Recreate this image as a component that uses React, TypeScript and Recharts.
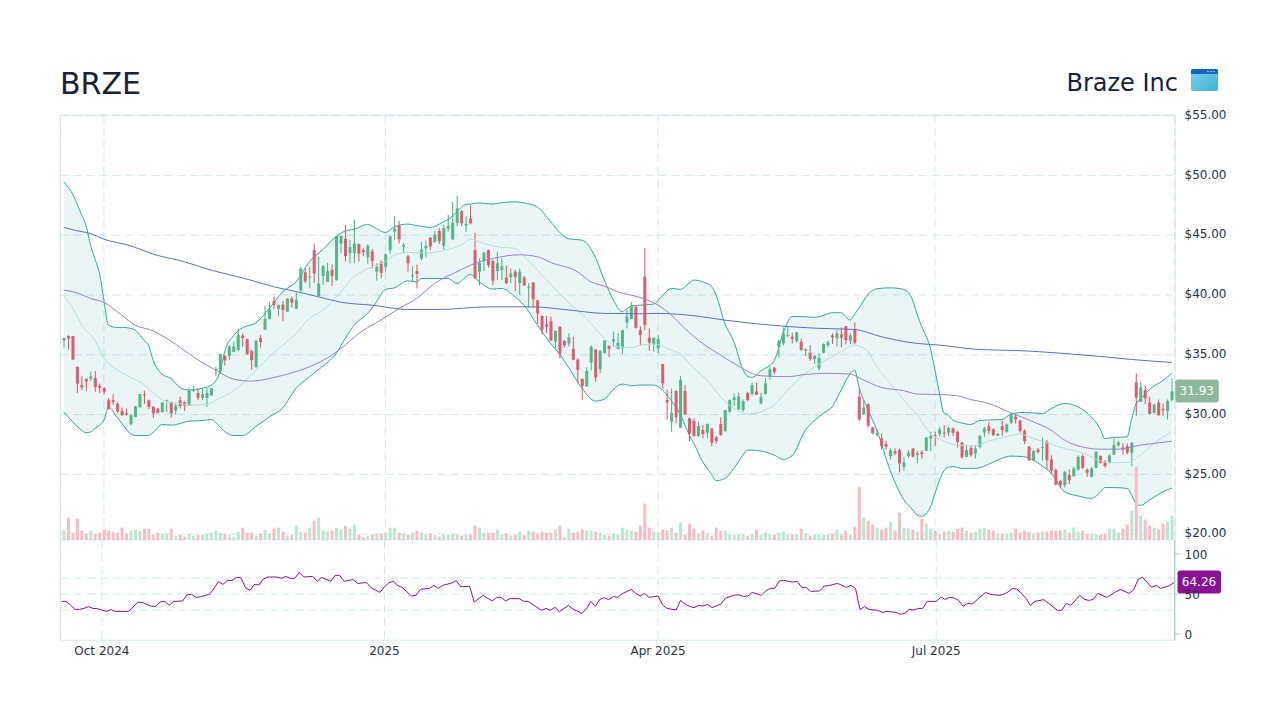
import React from "react";
import { ComposedChart, Bar, Line, Area, XAxis, YAxis, CartesianGrid, ReferenceLine, ReferenceDot } from "recharts";

// open, high, low, close for each trading day
const candles: number[][] = [
[36.2,36.42,35.6,36.4],[36.56,36.64,35.45,36.36],[36.56,36.56,34.6,34.6],[34,34,31.8,32.6],[32.46,33.2,32.05,32.27],[33,33,32,32.77],[33,33.6,32.8,33.2],[33.05,33.63,31.9,32.3],[32.4,32.6,31.8,32.25],[32.2,32.3,31.7,31.9],
[31.2,31.4,30.4,30.5],[31.2,31.7,30.8,31.05],[30.9,31,30.15,30.25],[30.3,30.6,29.9,29.95],[30.1,30.5,29.9,30],[29.2,30,29.1,29.95],[29.8,30.73,29.8,30.7],[30.6,31.75,30.6,31.7],[31.7,32,30.9,31.65],[31.2,31.25,30.45,30.65],
[30.65,30.7,29.7,30.1],[30.5,30.55,30.1,30.15],[30.2,31.05,30.2,31],[31.1,31.25,30.2,31.2],[31.05,31.1,29.75,30.1],[30.35,30.9,30,30.75],[31.2,31.5,30.5,30.7],[31.05,31.1,30.3,30.75],[30.75,32.25,30.75,32.05],[32,32.4,31.9,32.1],
[31.8,32.2,31.2,31.4],[31.4,32.2,31.2,31.7],[31.4,32.2,30.65,31.8],[31.6,32.2,31.6,32.2],[33.75,34,33.2,33.8],[33.6,35.1,33.4,35.05],[34.9,35,34.1,34.55],[34.9,35.8,34.55,35.7],[35.25,36.1,35.2,35.7],[35.4,37.2,35.3,36.65],
[36.6,36.8,35.65,36.4],[36.3,36.35,35,35.05],[35.3,35.45,33.75,34.55],[33.95,36.25,33.95,36.2],[36.4,36.65,35.6,36.05],[37.1,39.1,37.1,38],[38,39.4,37.95,38.8],[39.5,39.85,38.8,39.15],[38.85,39.25,38.25,39.15],[39.2,39.5,37.8,38.75],
[38.6,39.7,38.6,39.7],[39.7,39.85,38.95,39.35],[38.85,40.2,38.85,39.6],[40.4,42.35,40.1,42.2],[41.9,42.2,41,41.15],[41.5,42.35,40.55,41.55],[43.75,44.3,41,41.8],[39.9,43.2,39.9,40.95],[41.6,42.5,40.85,42.4],[41.1,42.7,41.1,42],
[42.1,42.55,40.75,41.6],[41.25,44.95,41.2,44.9],[44.3,44.95,43.5,44.95],[44.7,45.85,42.8,43.25],[43.5,44.6,42.65,44],[43.5,46.3,42.65,44.3],[44.25,44.3,42.8,43.45],[43.75,43.9,43.25,43.6],[43.15,44.25,42.6,44.1],[43.65,43.85,42.2,42.85],
[41.95,42.65,41.2,42.35],[42.7,42.9,41.4,41.85],[42.35,43.45,41.95,43.4],[43.75,44.95,43.45,44.9],[45.3,46.6,44.6,45.55],[45.8,46.2,44.3,44.65],[44.03,44.35,43.5,44.17],[43.25,43.35,41.95,42.65],[41.6,42.45,41.1,41.65],[42,42.55,40.55,41.75],
[43.05,44.45,42.9,43.8],[43.9,44.55,43.15,44.1],[44.8,44.85,43.75,44.05],[44.45,45.35,44.35,45.05],[45.35,45.6,44.25,44.5],[44.1,45.85,43.8,45.6],[45.55,46.7,45.3,45.75],[44.65,47.8,44.6,46.05],[46.05,48.3,45.75,47.25],[47,47.1,45.75,46],
[45.8,46.55,45.3,45.95],[46.4,47.5,45.9,46],[43.75,45.2,41.3,41.4],[41.95,43.05,40.8,42.7],[42.85,43.6,42,43.55],[43.75,43.8,42.3,42.5],[42.85,42.95,40.8,41.2],[42,43.6,41.25,42.65],[42.1,43.1,41.25,42.4],[41.45,42.45,40.9,41],
[41.5,42.2,41,41.8],[41.95,42.1,40.35,41.5],[41,42.2,40,41.95],[41.45,41.6,40.75,40.8],[40.6,41,38.95,40.7],[41.05,41.1,38.9,39.65],[39.55,39.6,37.6,38.45],[38.25,38.3,36.7,37.1],[37.55,38.25,36.8,37.35],[37.8,38.2,36.15,36.2],
[36.1,37.05,35.5,37],[37.35,37.4,34.7,35.1],[36.15,36.25,35.6,35.8],[35.95,36.8,35.7,36.45],[35.5,36.5,34.55,34.6],[34.6,34.7,32.6,33.75],[33,33,31.25,32.4],[32.35,33.95,32.35,33.65],[34.35,35.8,33.7,35.65],[35.45,35.45,32.75,33.1],
[33.8,35.4,33.45,35.3],[35.15,36.2,35.1,36.2],[35.75,35.8,34.8,35.5],[36.1,36.95,35.65,36.3],[35.5,36.8,35.45,36],[35.55,37.1,35.1,37.05],[37.7,38.75,37.2,38.2],[38,39.4,38,39.1],[39,39.15,37.2,37.25],[37.05,37.4,35.8,36.65],
[41.53,43.9,37.07,37.49],[36.43,37.21,35.34,36.01],[35.9,36.43,35.26,36.43],[35.54,36.65,35.12,36.32],[34.23,34.23,32.19,32.61],[31.22,32.1,29.6,31],[29.4,32.19,28.57,30.16],[31.97,32.05,29.27,29.77],[28.9,33.22,28.9,32.89],[31.97,32.47,29.96,30.02],
[29.68,29.77,27.73,28.43],[29.49,29.68,28.15,28.23],[28.2,29.4,28.15,29.04],[28.71,29.13,28.01,28.37],[28.48,29.26,28.01,29.21],[28.85,28.85,27.37,27.65],[28.09,28.2,27.59,27.79],[29.21,29.77,28.21,28.29],[28.62,30.38,28.57,30.38],[30.24,31.27,30.16,31.22],
[31.22,31.77,30.71,31.44],[30.44,31.83,30.38,31.5],[30.38,31.27,30.24,31.13],[31.8,31.91,31.13,31.22],[31.72,32.66,31.58,32.47],[31.94,32.66,31.63,31.66],[30.94,31.83,30.85,31.44],[31.72,33.03,31.69,32.61],[33.17,34,32.94,33.78],[33.92,34,33.39,33.58],
[35.68,36.29,34.78,36.15],[35.95,37.29,35.81,36.79],[36.57,37.35,36.51,36.65],[36.51,36.85,35.95,36.34],[36.15,36.93,36.01,36.87],[36.09,36.37,35.34,35.4],[35.34,35.54,34.9,35.45],[35.17,35.81,34.5,34.67],[34.64,34.98,34.23,34.9],[33.86,35.12,33.67,34.73],
[35.17,35.95,35.12,35.9],[35.81,36.18,35.62,36.04],[36.62,36.79,35.9,36.46],[36.37,37.12,35.68,36.79],[36.71,37.29,35.62,36.43],[37.4,37.4,35.87,36.23],[36.18,36.79,35.9,36.62],[37.12,37.71,35.9,36.01],[31.5,32.19,29.49,29.6],[30.02,31.22,29.96,30.6],
[30.88,30.94,28.93,29.07],[28.93,28.99,28.37,28.43],[28.29,28.71,28.15,28.48],[28.01,28.43,27.09,27.37],[27.54,27.82,27.09,27.31],[26.53,27.17,26.25,27.03],[26.95,27.17,26.62,26.76],[27.03,27.17,25.17,25.92],[25.64,26.48,25.31,26],[26.53,27.03,26.39,26.81],
[27.17,27.17,26.42,26.48],[26.62,26.98,25.92,26.76],[26.85,27.03,26.33,26.7],[26.97,28.14,26.97,28.09],[28,28.56,26.94,28.2],[28.28,28.56,27.39,28.2],[28.37,28.98,28.14,28.76],[28.5,29.12,28.09,28.48],[28.5,28.98,28.2,28.87],[28.84,28.92,28.2,28.48],
[28.56,28.64,27.25,27.72],[27.67,27.72,26.33,26.42],[26.47,27.45,26.42,27.03],[27.22,27.45,26.47,26.61],[26.75,27.45,26.33,27.17],[27.31,28.28,27.17,28.23],[28.5,28.98,28.14,28.84],[29.03,29.4,28.37,28.64],[28.78,28.84,28.2,28.28],[28.23,28.42,28.2,28.42],
[29.03,29.48,28.23,28.7],[28.56,29.26,28.48,29.17],[29.34,30.15,29.2,29.95],[29.82,30.01,29.26,29.59],[29.48,29.59,28.5,28.64],[28.64,28.76,27.53,27.78],[27.31,27.39,26.11,26.19],[26.14,27.03,26.11,26.94],[27.08,27.22,26.75,26.86],[27.25,28.06,26.14,27.28],
[27.72,27.87,25.44,26.19],[26.25,26.61,25.02,25.3],[25.36,25.5,24.07,24.16],[24.46,24.52,23.88,24.1],[24.1,25.3,23.91,25.22],[24.94,25.41,24.19,24.52],[24.85,25.63,24.8,25.5],[25.41,26.61,25.3,26.47],[26.53,26.67,25.44,25.55],[25.41,25.5,24.8,25.13],
[24.8,25.63,24.74,25.5],[25.55,26.94,25.5,26.89],[26.53,26.61,25.91,25.97],[26.05,26.19,25.55,25.69],[26.05,26.67,25.91,26.58],[26.67,28,26.61,27.45],[27.45,27.81,27.31,27.67],[27.25,27.59,26.67,27.08],[27.36,27.59,26.69,26.83],[26.8,27.72,25.69,27.64],
[32.69,33.44,29.9,31.43],[31.07,32.74,31.07,32.27],[32.04,32.46,30.87,31.35],[31.01,31.49,30.01,30.04],[30.15,30.87,30.09,30.85],[31.01,31.26,29.9,29.95],[30.46,30.93,29.9,30.4],[30.29,31.26,29.59,31.13],[31.21,33.02,31.13,31.93],
];

const volumes: number[] = [
28,67,22,64,28,19,28,19,22,31, 28,25,22,37,19,28,31,28,34,34, 15,22,19,19,34,13,15,10,19,13, 16,16,19,22,28,22,19,16,10,25,
37,22,22,13,19,31,19,34,37,25, 13,16,43,25,22,37,58,67,28,25, 28,37,31,43,34,46,16,8,13,15, 19,19,22,37,37,22,19,16,22,28,
22,16,19,15,10,15,16,19,16,13, 16,16,43,37,22,22,22,31,16,19, 13,16,25,15,28,25,19,25,22,22, 31,43,8,34,22,25,31,28,28,25,
22,16,13,19,16,37,31,28,25,43, 109,37,25,22,31,28,37,22,52,16, 49,34,19,28,22,13,37,28,28,16, 16,16,16,13,16,31,16,22,16,16,
22,25,16,16,16,34,19,13,16,16, 16,16,19,31,16,28,16,40,159,67, 58,46,37,31,37,55,28,82,37,34, 31,25,64,49,34,28,19,25,28,25,
34,37,28,22,25,34,37,31,28,19, 19,19,22,34,22,28,25,19,22,25, 25,28,28,28,31,22,37,25,28,19, 16,16,15,19,34,34,22,34,46,88,
219,73,61,43,37,31,49,55,73,
];

// Bollinger band readings: bar, upper, lower
const bollinger: number[][] = [
[0,49.46,30.23],[2,48.43,29.4],[4,46.7,28.7],[5,45.8,28.48],[6,44.17,28.55],[7,43,28.84],[8,41.8,29.1],[9,39.57,29.54],[10,37.48,30.6],[12,37.28,29.75],[13,37.3,29.26],[15,37.2,28.4],[16,37.06,28.25],[18,36.2,28.25],[19,35.8,28.25],[20,34.55,28.5],[22,33.38,29.17],[24,33.02,29.12],[26,32.27,29.25],[28,32.05,29.45],[31,32.2,29.5],[33,32.46,29.59],[35,33.6,28.95],[36,35.25,28.6],[38,36.6,28.25],[40,37.25,28.25],[43,37.67,29],[46,38.87,29.8],[49,40.27,30.55],[52,41.1,32.2],[55,42.8,33.16],[58,43.8,34.05],[61,44.9,35.11],[63,45.35,36.37],[65,45.5,37.48],[68,45.9,38.46],[70,45.55,39.43],[72,45.23,40.46],[74,45.7,40.6],[77,45.93,41.19],[79,45.8,41.08],[80,45.75,41.38],[82,45.65,41.38],[85,46.12,41.38],[86,46.3,41.38],[88,46.96,40.96],[90,47.57,41.5],[91,47.6,41.72],[93,47.7,41.1],[96,47.6,40.49],[98,47.72,40.55],[101,47.79,39.85],[103,47.7,39.15],[106,47.35,37.5],[109,46.12,35.95],[111,45.23,35.05],[113,44.7,33.95],[116,44.59,32.2],[119,43.14,31.13],[121,41.24,31.3],[123,39.6,32.1],[125,38.6,32.55],[126,38.85,32.5],[127,39.07,32.41],[129,39.15,32.47],[132,39.24,32.47],[134,39.95,32.05],[136,40.55,31.15],[138,40.47,30],[140,41,28.29],[141,41.25,27.6],[143,41.1,26.06],[145,40.69,25],[146,40,24.47],[148,37.6,24.67],[150,36.1,25.5],[152,33.8,26.6],[153,33.22,27.03],[154,33.11,27.03],[156,33.65,26.95],[159,34.5,26.62],[161,36.79,26.25],[163,38.2,26.55],[166,38.18,28.7],[168,38.13,29.5],[170,38.3,30.1],[172,38.52,30.66],[174,38.52,32.05],[176,37.9,33.4],[177,38.4,33.72],[178,38.9,32.3],[180,40.05,30.4],[182,40.52,28.7],[185,40.6,25.3],[188,40.47,22.9],[190,39.57,22.05],[191,38.4,21.6],[192,37.4,21.5],[194,35.5,22.3],[195,33.72,23.4],[196,31.8,24.5],[197,30.15,25.3],[198,29.95,25.6],[199,29.54,25.65],[201,29.3,25.5],[203,29.17,25.5],[205,29.5,25.55],[207,29.55,25.85],[210,29.59,26.35],[212,30.04,26.53],[215,30.18,26.47],[219,30.09,25.7],[221,30.5,25.1],[224,30.93,23.55],[227,30.65,23.2],[230,29.8,23],[232,28.8,23.5],[233,28,23.9],[235,28.09,23.9],[238,28.14,23.82],[239,29.6,23.3],[240,30.9,22.55],[241,31.3,22.4],[243,32.1,22.85],[246,32.85,23.55],[248,33.44,23.85],
];

const bollingerMid: number[][] = [
[0,39.9],[2,38.9],[4,37.5],[7,36.2],[9,34.7],[11,34],[14,33.3],[17,32.74],[19,32.2],[21,31.5],[23,31.07],[26,30.93],[29,30.79],[32,30.85],[34,31.2],[37,31.77],[40,32.6],[43,33.72],[46,34.83],[49,35.8],[52,36.78],[55,38.04],[58,38.73],[60,39.43],[62,40.27],[65,41.52],[68,42.2],[72,42.8],[74,43.33],[77,43.56],[81,43.53],[86,43.81],[89,44.17],[91,44.67],[94,44.3],[97,44.03],[101,43.9],[103,43.25],[106,42.08],[111,40.13],[114,39.01],[117,38.04],[121,36.37],[124,35.67],[127,35.61],[129,35.8],[132,35.9],[136,35.4],[138,35.06],[141,33.86],[144,32.89],[147,31.5],[150,30.52],[153,30.05],[157,30.38],[159,30.8],[162,32.05],[166,33.45],[170,34.42],[174,35.26],[177,35.82],[180,35.26],[182,34],[185,32.61],[188,31.22],[191,29.96],[194,28.42],[197,27.78],[200,27.45],[204,27.39],[207,27.78],[211,28.14],[214,28.37],[217,28],[221,27.53],[224,27.17],[228,26.8],[232,26.14],[234,25.97],[238,26],[241,26.61],[244,27.59],[248,28.56],
];

const sma50: number[][] = [
[0,40.41],[3,40.18],[6,39.71],[9,39.38],[12,38.6],[16,37.48],[20,37],[25,35.89],[29,34.83],[34,33.72],[38,32.97],[42,32.8],[47,33.1],[50,33.38],[55,34],[60,34.97],[63,35.81],[66,36.78],[71,37.9],[75,38.87],[79,39.71],[83,40.96],[88,41.94],[92,42.64],[96,43.05],[102,43.36],[106,43.2],[109,42.72],[115,41.94],[118,41.1],[121,40.74],[124,40.27],[129,39.79],[133,39.16],[136,38.32],[139,37.21],[143,35.95],[147,34.98],[151,34.06],[156,33.25],[162,33.17],[166,33.36],[171,33.45],[176,33.39],[179,32.89],[183,32.27],[188,32],[191,31.72],[196,31.68],[200,31.57],[203,31.26],[207,30.93],[212,30.15],[217,29.4],[221,28.7],[224,27.87],[227,27.39],[232,27.11],[236,27.11],[241,27.45],[244,27.59],[248,27.78],
];

const sma200: number[][] = [
[0,45.65],[3,45.37],[6,45.14],[9,44.67],[15,44.11],[20,43.42],[27,42.78],[33,42.08],[41,41.33],[47,40.69],[53,40.21],[60,39.57],[62,39.4],[69,39.15],[77,38.79],[84,38.79],[95,39.01],[105,39.01],[112,38.79],[121,38.46],[129,38.43],[133,38.46],[141,38.27],[148,37.9],[158,37.49],[169,37.21],[177,37.12],[183,36.51],[191,35.95],[196,35.81],[204,35.47],[215,35.33],[224,35.11],[233,34.83],[239,34.61],[248,34.36],
];

const rsi: number[][] = [
[0,40.8],[1,40.8],[2,36.3],[3,30.8],[4,30.8],[5,32],[6,34.2],[7,32],[8,31.7],[10,28.3],[11,30.4],[12,28.3],[15,28.3],[17,39.6],[18,39.6],[20,34.6],[21,34.6],[22,40],[23,40.8],[24,35.8],[25,40.8],[27,41.25],[28,49.2],[29,49.6],[30,45.8],[31,46.7],[33,49.6],[34,57],[35,65.4],[36,62],[37,67],[38,67],[39,70.8],[40,70.4],[41,58],[42,54.6],[43,62],[44,61.25],[45,68.75],[46,71.25],[48,71.25],[49,69.6],[50,72],[51,69.6],[52,69.6],[53,77],[54,71.25],[56,72],[57,65.8],[58,70.8],[60,65.8],[61,73.3],[62,73.3],[63,65.8],[65,68],[66,63.3],[68,64.2],[69,58],[71,52],[72,59],[73,64.2],[74,65.8],[75,60.4],[76,58],[78,47.5],[79,48.3],[80,55.8],[82,57],[83,60.8],[84,57],[85,60.8],[87,63.75],
[88,66.7],[89,59],[91,59.6],[92,40],[94,48.3],[96,41.25],[97,45.8],[98,45.8],[99,41.25],[100,44.2],[102,44.2],[103,41],[104,40.8],[107,29.6],[108,32],[109,29.6],[110,33.3],[111,28],[113,35.8],[114,31.25],[116,25.8],[117,31.25],[118,40.8],[119,34.6],[120,43.3],[121,45.4],[122,42.9],[123,46.7],[124,45.8],[125,50.4],[127,55.8],[128,50.8],[129,47.5],[130,50.8],[131,45.8],[133,47.5],[134,36.3],[135,32],[137,30],[138,42],[139,37.5],[140,34.6],[141,32.9],[142,35.8],[143,35],[144,37],[145,32.9],[147,37.5],[148,44.6],[150,48.75],[151,48.75],[152,47],[153,47.5],[154,52],[156,48.3],[157,53.75],[158,57],[159,57],[160,66.25],[161,67],[163,65],[164,65.8],[165,58.3],[166,58.3],[167,53.3],[169,53.75],[170,60],[171,60.4],[173,63.3],[175,58.3],[176,60.8],
[177,57],[178,30.8],[179,34.2],[180,30.8],[182,29.6],[183,27],[184,28.3],[186,27],[187,24.6],[188,25.8],[189,30.8],[190,30],[191,32],[192,32],[193,40.8],[195,40.8],[196,45.8],[197,43.3],[198,45.8],[199,45],[200,42],[201,34.6],[202,38.3],[203,37.5],[206,52],[207,49.6],[209,48.3],[210,49.6],[211,52.5],[212,57],[213,56.25],[215,44.6],[216,35.8],[217,40.8],[219,42.9],[222,29.6],[223,29.6],[224,38.3],[225,35.8],[227,48.3],[228,43.3],[229,42],[230,43.3],[231,50.8],[233,45.8],[235,52.5],[236,55.8],[238,50.8],[239,55],[240,68.3],[241,70.8],[243,58.3],[244,60.8],[245,57],[247,60.4],[248,64.26],
];

const priceTicks = [20, 25, 30, 35, 40, 45, 50, 55];
const rsiTicks = [0, 50, 100];
const rsiGuides = [30, 50, 70];
const timeTicks: Record<number, string> = { 9: "Oct 2024", 72: "2025", 133: "Apr 2025", 195: "Jul 2025" };
const lastPrice = 31.93;
const lastRsi = 64.26;

const readings = (list: number[][]) => new Map(list.map((r) => [r[0], r[1]]));
const midMap = readings(bollingerMid);
const s50Map = readings(sma50);
const s200Map = readings(sma200);
const rsiMap = readings(rsi);
const bandMap = new Map(bollinger.map((r) => [r[0], [r[2], r[1]]]));

const rows = candles.map((c, i) => ({
  i,
  open: c[0],
  close: c[3],
  up: c[3] >= c[0],
  range: [c[2], c[1]],
  volume: volumes[i],
  band: bandMap.get(i) ?? null,
  mid: midMap.get(i) ?? null,
  s50: s50Map.get(i) ?? null,
  s200: s200Map.get(i) ?? null,
  rsi: rsiMap.get(i) ?? null,
}));

const GRID = "#d3e6ec";
const INK = "#2a3142";
const tickIds = Object.keys(timeTicks).map(Number);

const Candle = (p: any) => {
  const { x, y, width, height, payload } = p;
  const [low, high] = payload.range;
  const span = high - low || 1;
  const toY = (v: number) => y + ((high - v) / span) * height;
  const top = toY(Math.max(payload.open, payload.close));
  const bottom = toY(Math.min(payload.open, payload.close));
  const cx = x + width / 2;
  return (
    <g>
      <line x1={cx} x2={cx} y1={y} y2={y + height} stroke={payload.up ? "#3fb27f" : "#f0475c"} strokeWidth={1} />
      <rect x={x} y={top} width={width} height={Math.max(bottom - top, 1)} fill={payload.up ? "#53b58a" : "#dc5c70"} />
    </g>
  );
};

const VolumeBar = (p: any) => (
  <rect x={p.x} y={p.y} width={p.width} height={p.height} fill={p.payload.up ? "#bde5d2" : "#f8bcc5"} />
);

const Tag = (color: string, text: string) => (p: any) => (
  <g>
    <rect x={p.cx + 3.5} y={p.cy - 12} width={43.5} height={23} rx={3} fill={color} />
    <text x={p.cx + 25} y={p.cy + 3.5} textAnchor="middle" fontSize={12} fill="#ffffff" fontFamily="DejaVu Sans">{text}</text>
  </g>
);

const font = "DejaVu Sans";

export default function App() {
  return (
    <div style={{ position: "fixed", left: 0, top: 0, width: 1280, height: 720, background: "#fff", fontFamily: font }}>
      <svg width={1280} height={110} style={{ position: "absolute", left: 0, top: 0 }}>
        <text x={60} y={94} fontSize={30} fill="#1a2238" fontFamily={font}>BRZE</text>
        <text x={1178} y={91} fontSize={24} fill="#1a2238" fontFamily={font} textAnchor="end">Braze Inc</text>
        <defs>
          <linearGradient id="logo" x1="0" y1="0" x2="1" y2="1">
            <stop offset="0" stopColor="#7fd3ee" />
            <stop offset="1" stopColor="#3fb0d4" />
          </linearGradient>
        </defs>
        <rect x={1191} y={69} width={27} height={22} rx={2} fill="url(#logo)" />
        <path d="M1191 74 V71 a2 2 0 0 1 2 -2 H1216 a2 2 0 0 1 2 2 V74 Z" fill="#1565c0" />
        <circle cx={1208} cy={71.5} r={0.8} fill="#bfe3f7" />
        <circle cx={1211} cy={71.5} r={0.8} fill="#bfe3f7" />
        <circle cx={1214} cy={71.5} r={0.8} fill="#bfe3f7" />
      </svg>

      <div style={{ position: "absolute", left: 60, top: 115, width: 1114, height: 524, border: "1px solid #dfeef2", pointerEvents: "none" }} />

      <div style={{ position: "absolute", left: 0, top: 0 }}>
        <ComposedChart width={1280} height={545} data={rows} margin={{ top: 115, left: 60.5, right: 45.5, bottom: 5 }} barGap={0}>
          <XAxis dataKey="i" type="category" ticks={tickIds} hide padding={{ left: 1, right: 0.5 }} />
          <XAxis dataKey="i" type="category" xAxisId="vol" hide padding={{ left: 1, right: 0.5 }} />
          <YAxis
            orientation="right"
            width={60}
            domain={[19.515, 55.05]}
            allowDataOverflow
            ticks={priceTicks}
            tickFormatter={(v: number) => `$${v.toFixed(2)}`}
            tick={{ fontSize: 12, fill: INK, fontFamily: font, dy: -1 }}
            tickLine={false}
            axisLine={false}
            tickMargin={4}
          />
          <YAxis yAxisId="vol" hide domain={[0, 1275]} />
          <CartesianGrid stroke={GRID} strokeDasharray="8 5" />
          <Bar dataKey="volume" xAxisId="vol" yAxisId="vol" barSize={3} shape={VolumeBar} isAnimationActive={false} />
          <Area dataKey="band" type="monotone" stroke="#2fa99b" strokeWidth={1} fill="#26a69a" fillOpacity={0.1} connectNulls dot={false} activeDot={false} isAnimationActive={false} />
          <Line dataKey="mid" type="monotone" stroke="#b2e0da" strokeWidth={1} connectNulls dot={false} activeDot={false} isAnimationActive={false} />
          <Line dataKey="s50" type="monotone" stroke="#9b80cf" strokeWidth={1} connectNulls dot={false} activeDot={false} isAnimationActive={false} />
          <Line dataKey="s200" type="monotone" stroke="#5f6fc4" strokeWidth={1} connectNulls dot={false} activeDot={false} isAnimationActive={false} />
          <Bar dataKey="range" barSize={3} shape={Candle} isAnimationActive={false} />
          <ReferenceDot x={248} y={lastPrice} ifOverflow="visible" shape={Tag("#8db89b", lastPrice.toFixed(2))} />
        </ComposedChart>
      </div>

      <div style={{ position: "absolute", left: 0, top: 540 }}>
        <ComposedChart width={1280} height={130} data={rows} margin={{ top: 0, left: 60.5, right: 45.5, bottom: 0 }}>
          <XAxis
            dataKey="i"
            type="category"
            height={30}
            ticks={tickIds}
            interval={0}
            tickFormatter={(v: number) => timeTicks[v] ?? ""}
            tick={{ fontSize: 12, fill: INK, fontFamily: font, dy: -3 }}
            tickLine={false}
            axisLine={{ stroke: "#dfeef2" }}
            tickMargin={3}
            padding={{ left: 1, right: 0.5 }}
          />
          <YAxis
            orientation="right"
            width={60}
            domain={[-7.5, 117.5]}
            allowDataOverflow
            ticks={rsiTicks}
            tick={{ fontSize: 12, fill: INK, fontFamily: font, dy: 1 }}
            tickLine={{ stroke: "#a9ccd2" }}
            tickSize={6}
            axisLine={{ stroke: "#a9ccd2" }}
            tickMargin={4}
          />
          <CartesianGrid stroke={GRID} strokeDasharray="8 5" horizontal={false} />
          {rsiGuides.map((g) => (
            <ReferenceLine key={g} y={g} stroke="#cfe8f2" strokeDasharray="8 5" />
          ))}
          <Line dataKey="rsi" type="linear" stroke="#8e1199" strokeWidth={1} connectNulls dot={false} activeDot={false} isAnimationActive={false} />
          <ReferenceDot x={248} y={lastRsi} ifOverflow="visible" shape={Tag("#8b0f96", lastRsi.toFixed(2))} />
        </ComposedChart>
      </div>
    </div>
  );
}
